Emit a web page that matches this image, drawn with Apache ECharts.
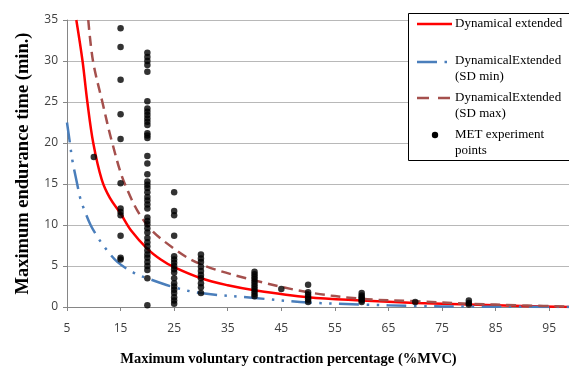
<!DOCTYPE html>
<html>
<head>
<meta charset="utf-8">
<script src="https://cdn.jsdelivr.net/npm/echarts@6/dist/echarts.min.js"></script>
<style>
html,body{margin:0;padding:0;background:#fff;}
#chart{width:569px;height:369px;}
</style>
</head>
<body>
<div id="chart"></div>
<script>
// ---- Data ----
const xTicks = [5, 15, 25, 35, 45, 55, 65, 75, 85, 95];
const yTicks = [0, 5, 10, 15, 20, 25, 30, 35];

// Dynamical extended model curve
const dynX = [6.74, 7.9, 8.8, 9.9, 11.5, 13, 15, 17, 20, 22.5, 25, 30, 35, 40, 50, 60, 70, 80, 90, 100];
const dynY = [35, 30, 25, 20, 15.5, 13.3, 11.4, 9.3, 7.1, 5.8, 4.85, 3.5, 2.65, 2.05, 1.2, 0.8, 0.5, 0.3, 0.12, 0];

// DynamicalExtended (SD min)
const sdMinX = [5, 5.5, 6.0, 6.9, 7.5, 8.2, 9.4, 10.65, 11.9, 14.4, 17.4, 20, 25, 30, 40, 50, 60, 70, 80, 90, 100];
const sdMinY = [22.5, 20.2, 17.9, 15.0, 13.2, 11.9, 10.0, 8.6, 7.4, 5.5, 4.2, 3.5, 2.4, 1.7, 1.1, 0.55, 0.3, 0.12, 0.05, 0.02, 0];

// DynamicalExtended (SD max)
const sdMaxX = [8.97, 9.85, 11.6, 13.45, 15.8, 19.7, 25, 30, 40, 50, 60, 70, 80, 90, 100];
const sdMaxY = [35, 30, 25, 20, 15, 10.2, 7.1, 5.2, 3.25, 1.8, 1.0, 0.7, 0.4, 0.2, 0.02];

// MET experiment points, grouped by %MVC
const met10 = [18.3];
const met15 = [34.0, 31.7, 27.7, 23.5, 20.5, 15.1, 12.0, 11.6, 11.2, 8.7, 6.0, 5.8];
const met20 = [31.0, 30.5, 30.0, 29.5, 28.7, 25.1, 24.2, 23.8, 23.4, 23.0, 22.6, 22.2, 21.2, 20.9, 20.6,
               18.4, 17.5, 16.2, 15.3, 14.9, 14.5, 14.0, 13.4, 13.0, 12.5, 12.0,
               10.9, 10.5, 10.1, 9.6, 9.1, 8.4, 7.9, 7.4, 6.9, 6.4, 6.0, 5.5, 5.0, 4.5, 3.5, 0.2];
const met25 = [14.0, 11.7, 11.2, 8.7, 6.2, 5.8, 5.4, 5.0, 4.6, 4.2, 3.5, 2.9, 2.5, 2.1, 1.7, 1.2, 0.8, 0.4];
const met30 = [6.4, 5.9, 5.5, 4.9, 4.4, 3.9, 3.5, 2.9, 2.4, 1.7];
const met40 = [4.3, 4.0, 3.7, 3.4, 3.1, 2.8, 2.5, 2.2, 1.9, 1.6, 1.3];
const met45 = [2.2];
const met50 = [2.7, 1.8, 1.5, 1.2, 0.9, 0.6];
const met60 = [1.7, 1.4, 1.2, 1.0, 0.8, 0.6];
const met70 = [0.6];
const met80 = [0.8, 0.5, 0.3];

const metGroups = [[10, met10], [15, met15], [20, met20], [25, met25], [30, met30], [40, met40],
                   [45, met45], [50, met50], [60, met60], [70, met70], [80, met80]];

const seriesNames = ['Dynamical extended', 'DynamicalExtended\n(SD min)', 'DynamicalExtended\n(SD max)', 'MET experiment\npoints'];
const xTitle = 'Maximum voluntary contraction percentage (%MVC)';
const yTitle = 'Maximum endurance time (min.)';

// ---- Build ----
const zip = (xs, ys) => xs.map((x, i) => [x, ys[i]]);
const metData = [];
metGroups.forEach(([x, ys]) => ys.forEach(y => metData.push([x, y])));

const RED = '#ff0000', BLUE = '#4a7ebb', BROWN = '#a5504d';
const serif = '"Liberation Serif", "Times New Roman", serif';
const sans = '"Open Sans", "Liberation Sans", sans-serif';

const chart = echarts.init(document.getElementById('chart'), null, {renderer: 'canvas'});

const legendX = 408.5, legendY = 13.5;
chart.setOption({
  animation: false,
  backgroundColor: '#ffffff',
  grid: {left: 67, right: -7, top: 20, bottom: 62, containLabel: false, outerBoundsMode: 'none'},
  xAxis: {
    type: 'value', min: xTicks[0], max: 100, interval: 10,
    axisLine: {show: true, lineStyle: {color: '#868686', width: 1}},
    axisTick: {show: true, length: 4, lineStyle: {color: '#868686'}},
    splitLine: {show: false},
    axisLabel: {color: '#404040', fontFamily: sans, fontSize: 12, margin: 16, showMaxLabel: false,
      formatter: v => (xTicks.indexOf(v) >= 0 ? String(v) : '')},
    name: xTitle, nameLocation: 'middle', nameGap: 45,
    nameTextStyle: {fontFamily: serif, fontWeight: 'bold', fontSize: 14.5, color: '#000', padding: [0, 66, 0, 0]}
  },
  yAxis: {
    type: 'value', min: yTicks[0], max: yTicks[yTicks.length - 1], interval: 5,
    axisLine: {show: true, lineStyle: {color: '#868686', width: 1}},
    axisTick: {show: true, length: 4, lineStyle: {color: '#868686'}},
    splitLine: {show: true, lineStyle: {color: '#b8b8b8', width: 1}},
    axisLabel: {color: '#404040', fontFamily: sans, fontSize: 12, margin: 9},
    name: yTitle, nameLocation: 'middle', nameGap: 34, nameRotate: 90,
    nameTextStyle: {fontFamily: serif, fontWeight: 'bold', fontSize: 18.5, color: '#000'}
  },
  series: [
    {name: seriesNames[0], type: 'line', data: zip(dynX, dynY), smooth: 0.35,
     showSymbol: false, symbol: 'none', clip: true, lineStyle: {color: RED, width: 2.5}, z: 3},
    {name: seriesNames[1], type: 'line', data: zip(sdMinX, sdMinY), smooth: 0.35,
     showSymbol: false, symbol: 'none', clip: true,
     lineStyle: {color: BLUE, width: 2.5, type: [20, 7.5, 2.5, 7.5, 2.5, 7.5]}, z: 3},
    {name: seriesNames[2], type: 'line', data: zip(sdMaxX, sdMaxY), smooth: 0.35,
     showSymbol: false, symbol: 'none', clip: true,
     lineStyle: {color: BROWN, width: 2.5, type: [10, 6]}, z: 3},
    {name: seriesNames[3], type: 'scatter', data: metData, symbol: 'circle', symbolSize: 6.5,
     itemStyle: {color: '#000000'}, z: 4}
  ],
  graphic: [
    {type: 'rect', z: 100, shape: {x: legendX, y: legendY, width: 180, height: 147},
     style: {fill: '#ffffff', stroke: '#000000', lineWidth: 1}},
    {type: 'line', z: 101, shape: {x1: 417, y1: 24, x2: 452, y2: 24}, style: {stroke: RED, lineWidth: 2.5}},
    {type: 'text', z: 101, x: 455, y: 24, style: {text: seriesNames[0], font: '13px ' + serif, fill: '#000', verticalAlign: 'middle'}},
    {type: 'line', z: 101, shape: {x1: 417, y1: 62, x2: 452, y2: 62},
     style: {stroke: BLUE, lineWidth: 2.5, lineDash: [20, 7.5, 2.5, 7.5, 2.5, 7.5]}},
    {type: 'text', z: 101, x: 455, y: 53, style: {text: seriesNames[1], font: '13px ' + serif, fill: '#000', lineHeight: 16, verticalAlign: 'top'}},
    {type: 'line', z: 101, shape: {x1: 417, y1: 98, x2: 452, y2: 98},
     style: {stroke: BROWN, lineWidth: 2.5, lineDash: [12, 9]}},
    {type: 'text', z: 101, x: 455, y: 89.5, style: {text: seriesNames[2], font: '13px ' + serif, fill: '#000', lineHeight: 16, verticalAlign: 'top'}},
    {type: 'circle', z: 101, shape: {cx: 435, cy: 135, r: 3.2}, style: {fill: '#000'}},
    {type: 'text', z: 101, x: 455, y: 127, style: {text: seriesNames[3], font: '13px ' + serif, fill: '#000', lineHeight: 16, verticalAlign: 'top'}}
  ]
});
</script>
</body>
</html>
